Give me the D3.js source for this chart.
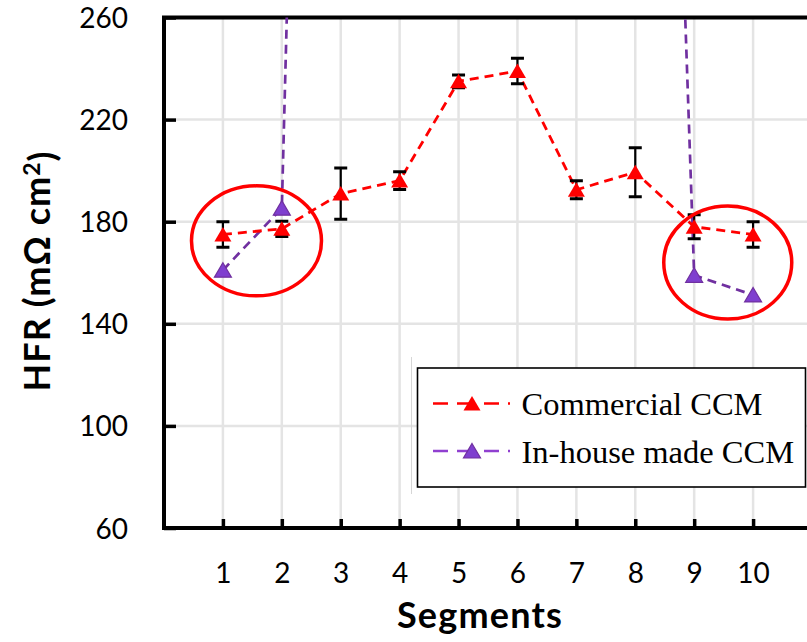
<!DOCTYPE html>
<html>
<head>
<meta charset="utf-8">
<script src="https://cdn.jsdelivr.net/npm/d3@7"></script>
<style>
  html, body { margin: 0; padding: 0; background: #fff; }
  svg { display: block; }
</style>
</head>
<body>
<svg id="main" width="807" height="642"></svg>
<script>
const width = 807;
const height = 642;
const plot = { left: 164, top: 17.5, right: 812, bottom: 528 };

// data
const segments = [1, 2, 3, 4, 5, 6, 7, 8, 9, 10];
const commercial = [175, 177.2, 191, 196.1, 235, 239, 192.5, 199.4, 178, 175];
const commercialErr = [5, 3, 10, 3.5, 2.5, 5, 3.5, 9.6, 4.7, 5];
// in-house values in segments 3-8 run off the chart (only 3 and 8 can be estimated)
const inHouse = [161, 185.3, 1070, null, null, null, null, 823, 159, 151.3];
const yTicks = [60, 100, 140, 180, 220, 260];
const xTicks = segments;

const svg = d3.select('#main');

const x = d3.scaleLinear().domain([0, 11]).range([plot.left, plot.right]);
const y = d3.scaleLinear().domain([60, 260]).range([plot.bottom, plot.top]);

svg.append('defs')
    .append('clipPath')
    .attr('id', 'clip')
    .append('rect')
    .attr('x', plot.left)
    .attr('y', plot.top)
    .attr('width', plot.right - plot.left)
    .attr('height', plot.bottom - plot.top);

// grid
const grid = svg.append('g').attr('stroke', '#e4e4e4').attr('stroke-width', 2.5);
grid.selectAll('.gx')
    .data(xTicks)
    .join('line')
    .attr('x1', d => x(d)).attr('x2', d => x(d))
    .attr('y1', plot.top).attr('y2', plot.bottom);
grid.selectAll('.gy')
    .data(yTicks.slice(1, -1))
    .join('line')
    .attr('x1', plot.left).attr('x2', plot.right)
    .attr('y1', d => y(d)).attr('y2', d => y(d));

// faint line left of the legend
svg.append('line')
    .attr('x1', 411.5).attr('x2', 411.5)
    .attr('y1', 357).attr('y2', 494)
    .attr('stroke', '#d6d6d6').attr('stroke-width', 1);

// axes
const yAxis = d3.axisLeft(y).tickValues(yTicks).tickSizeInner(-12).tickSizeOuter(0).tickPadding(36);
const xAxis = d3.axisBottom(x).tickValues(xTicks).tickSizeInner(-9).tickSizeOuter(0).tickPadding(35);

const gy = svg.append('g').attr('transform', `translate(${plot.left},0)`).call(yAxis);
const gx = svg.append('g').attr('transform', `translate(0,${plot.bottom})`).call(xAxis);
[gx, gy].forEach(g => {
    g.select('.domain').remove();
    g.selectAll('line').attr('stroke', '#000').attr('stroke-width', 3.5);
    g.selectAll('text')
        .attr('fill', '#000')
        .style('font-family', 'Lato, sans-serif')
        .style('font-size', '28px');
});
gy.selectAll('text').attr('dy', '0.36em');

// frame
svg.append('rect')
    .attr('x', plot.left)
    .attr('y', plot.top)
    .attr('width', plot.right - plot.left)
    .attr('height', plot.bottom - plot.top)
    .attr('fill', 'none')
    .attr('stroke', '#000')
    .attr('stroke-width', 4);

const chart = svg.append('g').attr('clip-path', 'url(#clip)');

const line = d3.line()
    .defined(d => d[1] != null)
    .x(d => x(d[0]))
    .y(d => y(d[1]));

chart.append('path')
    .datum(segments.map((s, i) => [s, inHouse[i]]))
    .attr('d', line)
    .attr('fill', 'none')
    .attr('stroke', '#7030a0')
    .attr('stroke-width', 2.7)
    .attr('stroke-dasharray', '9,6');

chart.append('path')
    .datum(segments.map((s, i) => [s, commercial[i]]))
    .attr('d', line)
    .attr('fill', 'none')
    .attr('stroke', '#ff0000')
    .attr('stroke-width', 2.8)
    .attr('stroke-dasharray', '9,6');

// error bars
const err = chart.append('g').attr('stroke', '#000');
segments.forEach((s, i) => {
    const lo = y(commercial[i] - commercialErr[i]);
    const hi = y(commercial[i] + commercialErr[i]);
    err.append('line')
        .attr('x1', x(s)).attr('x2', x(s))
        .attr('y1', lo).attr('y2', hi)
        .attr('stroke-width', 2.2);
    [lo, hi].forEach(v => {
        err.append('line')
            .attr('x1', x(s) - 6.5).attr('x2', x(s) + 6.5)
            .attr('y1', v).attr('y2', v)
            .attr('stroke-width', 3);
    });
});

const tri = 'M0,-7.5L8.5,7L-8.5,7Z';

chart.selectAll('.m-in')
    .data(segments.map((s, i) => [s, inHouse[i]]).filter(d => d[1] != null && d[1] < 260))
    .join('path')
    .attr('d', tri)
    .attr('transform', d => `translate(${x(d[0])},${y(d[1])})`)
    .attr('fill', '#7f3fcf')
    .attr('stroke', '#7030a0')
    .attr('stroke-width', 1.2);

chart.selectAll('.m-com')
    .data(segments.map((s, i) => [s, commercial[i]]))
    .join('path')
    .attr('d', tri)
    .attr('transform', d => `translate(${x(d[0])},${y(d[1])})`)
    .attr('fill', '#ff0000');

// highlight circles
const rings = [
    { cx: 1.57, cy: 172.5, rx: 65, ry: 55 },
    { cx: 9.57, cy: 164, rx: 64, ry: 56.5 }
];
svg.selectAll('.ring')
    .data(rings)
    .join('ellipse')
    .attr('cx', d => x(d.cx))
    .attr('cy', d => y(d.cy))
    .attr('rx', d => d.rx)
    .attr('ry', d => d.ry)
    .attr('fill', 'none')
    .attr('stroke', '#ff0000')
    .attr('stroke-width', 3.5);

// legend
const legend = svg.append('g');
legend.append('rect')
    .attr('x', 417.5).attr('y', 368)
    .attr('width', 388).attr('height', 119)
    .attr('fill', '#fff')
    .attr('stroke', '#000')
    .attr('stroke-width', 1.6);

const legendItems = [
    { name: 'Commercial CCM', color: '#ff0000', fill: '#ff0000', y: 403.5 },
    { name: 'In-house made CCM', color: '#9040d0', fill: '#7f3fcf', y: 451 }
];
legendItems.forEach(d => {
    legend.append('line')
        .attr('x1', 433).attr('x2', 510)
        .attr('y1', d.y).attr('y2', d.y)
        .attr('stroke', d.color)
        .attr('stroke-width', 2.5)
        .attr('stroke-dasharray', '15,9,18,9');
    legend.append('path')
        .attr('d', tri)
        .attr('transform', `translate(472,${d.y})`)
        .attr('fill', d.fill)
        .attr('stroke', d.fill === '#ff0000' ? 'none' : '#7030a0')
        .attr('stroke-width', 1.2);
    legend.append('text')
        .attr('x', 521.5)
        .attr('y', d.y + 11.5)
        .style('font-family', '"Liberation Serif", "Times New Roman", serif')
        .style('font-size', '32.5px')
        .attr('fill', '#000')
        .text(d.name);
});

// axis titles
svg.append('text')
    .attr('x', 480)
    .attr('y', 628)
    .attr('text-anchor', 'middle')
    .style('font-family', 'Lato, sans-serif')
    .style('font-weight', 'bold')
    .style('font-size', '36px')
    .style('letter-spacing', '1.2px')
    .text('Segments');

const yTitle = svg.append('text')
    .attr('transform', 'translate(50,271) rotate(-90)')
    .attr('text-anchor', 'middle')
    .style('font-family', 'Lato, sans-serif')
    .style('font-weight', 'bold')
    .style('font-size', '36px')
    .style('letter-spacing', '1px');
yTitle.append('tspan').text('HFR (mΩ cm');
yTitle.append('tspan').attr('dy', '-0.42em').style('font-size', '23px').text('2');
yTitle.append('tspan').attr('dy', '0.42em').text(')');
</script>
</body>
</html>
